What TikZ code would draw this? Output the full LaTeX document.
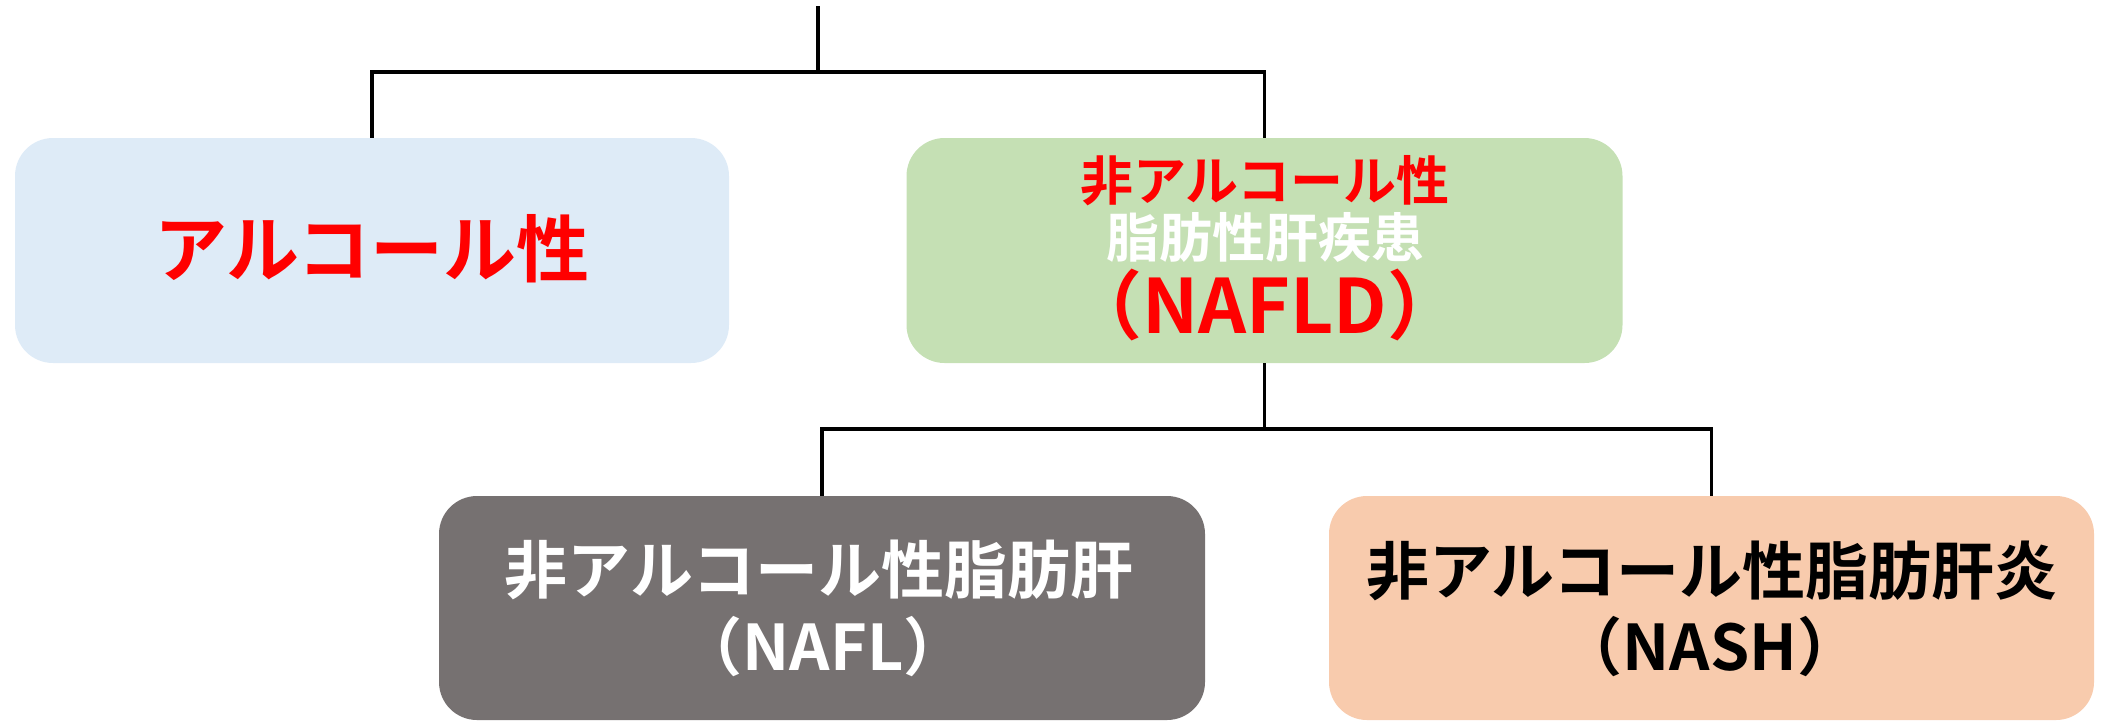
\documentclass[tikz,border=0pt]{standalone}
\usepackage{fontspec}
\newfontfamily\jp{Noto Sans CJK JP}[BoldFont={Noto Sans CJK JP Bold}]
\definecolor{boxblue}{HTML}{DEEBF7}
\definecolor{boxgreen}{HTML}{C5E0B4}
\definecolor{boxgray}{HTML}{767171}
\definecolor{boxpeach}{HTML}{F8CBAD}
\definecolor{txtred}{HTML}{FF0000}
\begin{document}
\begin{tikzpicture}[x=1pt,y=-1pt,
  box/.style={shape=rectangle, rounded corners=38pt, inner sep=0pt, draw=none},
  conn/.style={draw=black, line width=3.5pt},
  txt/.style={inner sep=0pt, anchor=base, font=\jp\bfseries}]
\useasboundingbox (0,0) rectangle (2108,721);
% boxes
\node[box, fill=boxblue, minimum width=714pt, minimum height=225pt] (alc) at (372,250.5) {};
\node[box, fill=boxgreen, minimum width=716pt, minimum height=225pt] (nafld) at (1264.5,250.5) {};
\node[box, fill=boxgray, minimum width=766pt, minimum height=224pt] (nafl) at (822,608) {};
\node[box, fill=boxpeach, minimum width=765pt, minimum height=224pt] (nash) at (1711.5,608) {};
% texts
\node[txt, text=txtred, font=\jp\bfseries\fontsize{73}{80}\selectfont] (alct) at (372,276) {アルコール性};
\node[txt, text=txtred, font=\jp\bfseries\fontsize{53}{60}\selectfont] (nafldt1) at (1265,200) {非アルコール性};
\node[txt, text=white, font=\jp\bfseries\fontsize{53}{60}\selectfont] (nafldt2) at (1265,257) {脂肪性肝疾患};
\node[txt, text=txtred, font=\jp\bfseries\fontsize{75}{80}\selectfont] (nafldt3) at (1265,333) {（NAFLD）};
\node[txt, text=white, font=\jp\bfseries\fontsize{63}{70}\selectfont] (naflt1) at (819,593) {非アルコール性脂肪肝};
\node[txt, text=white, font=\jp\bfseries\fontsize{63}{70}\selectfont] (naflt2) at (823,670) {（NAFL）};
\node[txt, text=black, font=\jp\bfseries\fontsize{63}{70}\selectfont] (nasht1) at (1712,594) {非アルコール性脂肪肝炎};
\node[txt, text=black, font=\jp\bfseries\fontsize{63}{70}\selectfont] (nasht2) at (1710,670) {（NASH）};
% connectors
\coordinate (top) at (818,6);
\coordinate (j1) at (818,72);
\coordinate (j2) at (1264.5,429);
\draw[conn] (top) -- (j1);
\draw[conn] (alc.north) |- (j1) -| (nafld.north);
\draw[conn] (nafld.south) -- (j2);
\draw[conn] (nafl.north) |- (j2) -| (nash.north);
\end{tikzpicture}
\end{document}
